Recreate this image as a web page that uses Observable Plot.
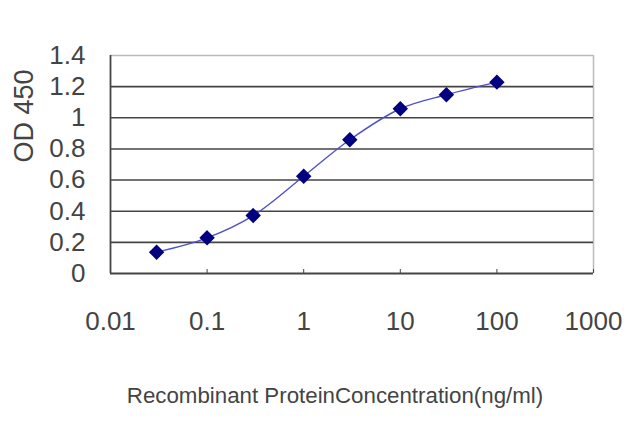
<!DOCTYPE html>
<html><head><meta charset="utf-8">
<script src="https://cdn.jsdelivr.net/npm/d3@7"></script>
<script src="https://cdn.jsdelivr.net/npm/@observablehq/plot@0.6"></script>
<style>
html,body{margin:0;padding:0;background:#fff;}
</style>
</head><body>
<div id="chart"></div>
<script>
const concentration = [0.03, 0.1, 0.3, 1, 3, 10, 30, 100];
const od = [0.137, 0.229, 0.372, 0.625, 0.859, 1.058, 1.148, 1.229];
const xTicks = [0.01, 0.1, 1, 10, 100, 1000];
const xTickLabels = ["0.01", "0.1", "1", "10", "100", "1000"];
const yTicks = [0, 0.2, 0.4, 0.6, 0.8, 1, 1.2, 1.4];
const yTickLabels = ["0", "0.2", "0.4", "0.6", "0.8", "1", "1.2", "1.4"];
const innerGrid = [0.2, 0.4, 0.6, 0.8, 1, 1.2];
const xTitle = "Recombinant ProteinConcentration(ng/ml)";
const yTitle = "OD 450";

const data = concentration.map((c, i) => ({c, v: od[i]}));
const font = "'Liberation Sans',Arial,sans-serif";

const chart = Plot.plot({
  width: 640,
  height: 427,
  marginLeft: 110,
  marginRight: 47,
  marginTop: 55,
  marginBottom: 154,
  style: {fontFamily: font, color: "#333", background: "#fff"},
  x: {type: "log", domain: [0.01, 1000]},
  y: {domain: [0, 1.4]},
  marks: [
    Plot.ruleY([1.4], {stroke: "#bbb", strokeWidth: 1.5}),
    Plot.ruleX([1000], {stroke: "#bbb", strokeWidth: 1.5}),
    Plot.ruleY(innerGrid, {stroke: "#444", strokeWidth: 1.6}),
    Plot.ruleY([0], {stroke: "#444", strokeWidth: 1.8}),
    Plot.ruleX([0.01], {stroke: "#444", strokeWidth: 1.8}),
    Plot.axisX({ticks: xTicks, tickSize: 4, dy: -4, text: null, label: null, stroke: "#444"}),
    Plot.axisX({ticks: xTicks, tickSize: 0, tickPadding: 38, label: null,
      tickFormat: (d) => xTickLabels[xTicks.indexOf(d)], fontSize: 26, fill: "#444"}),
    Plot.axisY({ticks: yTicks, tickSize: 0, tickPadding: 25,
      tickFormat: (d) => yTickLabels[yTicks.findIndex(t => Math.abs(t - d) < 1e-9)],
      fontSize: 26, fill: "#444", label: null}),
    Plot.text([yTitle], {frameAnchor: "left", dx: -86, dy: -2, rotate: -90, fontSize: 27, fill: "#444"}),
    Plot.text([xTitle], {frameAnchor: "bottom", dy: 129, dx: -17, fontSize: 22.3, fill: "#444"}),
    Plot.line(data, {x: "c", y: "v", curve: "catmull-rom", stroke: "#5050c8", strokeWidth: 1.4}),
    Plot.dot(data, {x: "c", y: "v", symbol: "diamond2", r: 6, fill: "#000080", stroke: "#000080"})
  ]
});
document.getElementById("chart").appendChild(chart);
</script>
</body></html>
